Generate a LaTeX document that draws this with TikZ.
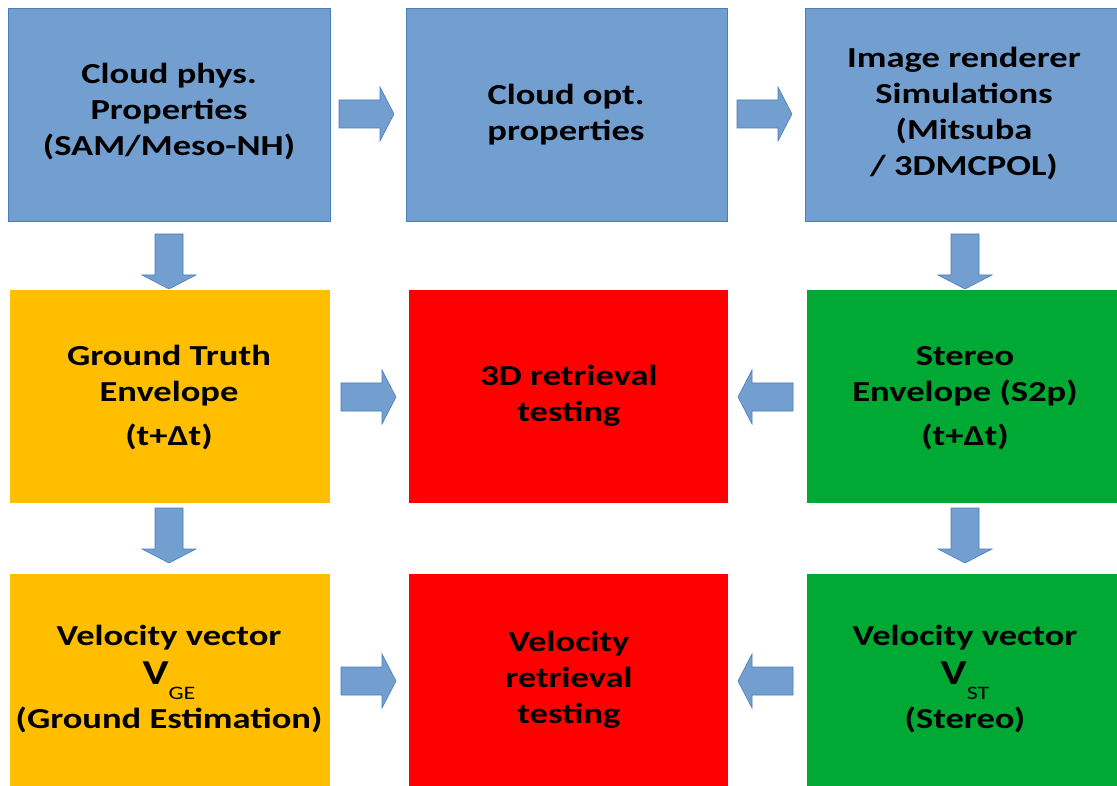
\documentclass[tikz,border=0pt]{standalone}
\usepackage{fontspec}
\setmainfont{Carlito}[FakeStretch=1.26]
\definecolor{boxblue}{HTML}{729FCF}
\definecolor{blueedge}{HTML}{4A7EBB}
\definecolor{boxyellow}{HTML}{FFBF00}
\definecolor{boxred}{HTML}{FF0000}
\definecolor{boxgreen}{HTML}{00A933}
\tikzset{
  bluebox/.style={fill=boxblue, draw=blueedge, line width=0.8pt},
  lbl/.style={align=center, font=\bfseries\fontsize{29}{36}\selectfont, text=black, inner sep=0pt},
  blockarrow/.pic={\path[fill=boxblue, draw=blueedge, line width=0.6pt]
     (0,-14) -- (41,-14) -- (41,-27) -- (55,0) -- (41,27) -- (41,14) -- (0,14) -- cycle;}
}
\newcommand{\bigV}{{\fontsize{35}{36}\selectfont V}}
\newcommand{\subtxt}[1]{\raisebox{-15pt}{\fontsize{19}{19}\selectfont\mdseries #1}}
\begin{document}
\begin{tikzpicture}[x=1pt,y=-1pt]
\useasboundingbox (0,0) rectangle (1117,786);
\fill[white] (0,0) rectangle (1117,786);
% row 1
\path[bluebox] (8,8) rectangle (330,221);
\path[bluebox] (406,8) rectangle (727,221);
\path[bluebox] (805,8) rectangle (1130,221);
% row 2
\fill[boxyellow] (10,290) rectangle (330,503);
\fill[boxred] (409,290) rectangle (728,503);
\fill[boxgreen] (807,290) rectangle (1130,503);
% row 3
\fill[boxyellow] (10,574) rectangle (330,800);
\fill[boxred] (409,574) rectangle (728,800);
\fill[boxgreen] (807,574) rectangle (1130,800);

\node[lbl] (phys) at (169,112) {Cloud phys.\\Properties\\(SAM/Meso-NH)};
\node[lbl] (opt) at (566,115) {Cloud opt.\\properties};
\node[lbl] (rend) at (964,114) {Image renderer\\Simulations\\(Mitsuba\\/ 3DMCPOL)};
\node[lbl] (gt) at (169,398) {Ground Truth\\Envelope\\[8pt](t+Δt)};
\node[lbl] (ret3d) at (569,396) {3D retrieval\\testing};
\node[lbl] (stereo) at (965,398) {Stereo\\Envelope (S2p)\\[8pt](t+Δt)};
\node[lbl] (vge) at (169,679) {Velocity vector\\[3pt]\bigV\subtxt{GE}\\[6pt](Ground Estimation)};
\node[lbl] (velret) at (569,680) {Velocity\\retrieval\\testing};
\node[lbl] (vst) at (965,679) {Velocity vector\\[3pt]\bigV\subtxt{ST}\\[6pt](Stereo)};

% block arrows
\pic at (339,114) {blockarrow};
\pic at (737,114) {blockarrow};
\pic[rotate=-90] at (169,234) {blockarrow};
\pic[rotate=-90] at (965,234) {blockarrow};
\pic at (341,397) {blockarrow};
\pic[rotate=180] at (793,397) {blockarrow};
\pic[rotate=-90] at (169,508) {blockarrow};
\pic[rotate=-90] at (965,508) {blockarrow};
\pic at (341,681) {blockarrow};
\pic[rotate=180] at (793,681) {blockarrow};
\end{tikzpicture}
\end{document}
